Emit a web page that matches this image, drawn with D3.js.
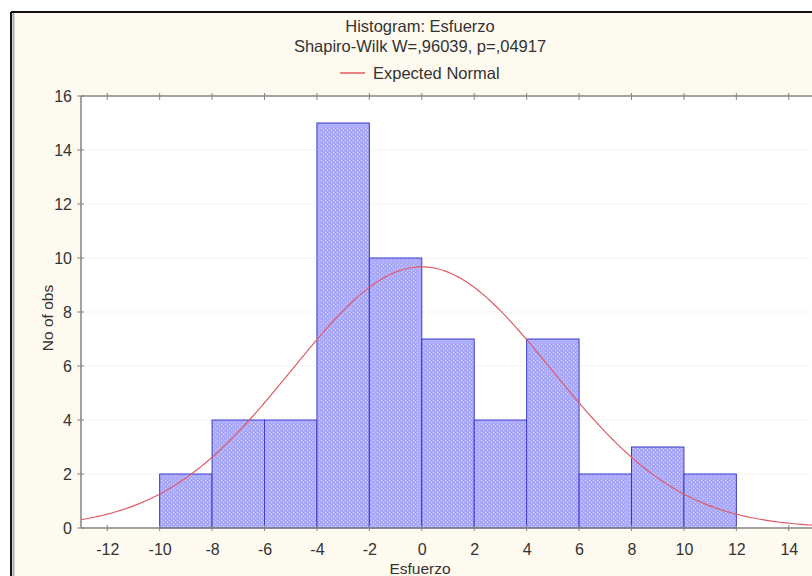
<!DOCTYPE html>
<html>
<head>
<meta charset="utf-8">
<script src="https://cdn.jsdelivr.net/npm/d3@7"></script>
<style>
  body { margin: 0; background: #fff; }
  text { font-family: "Liberation Sans", Arial, sans-serif; fill: #333; }
</style>
</head>
<body>
<script>
// histogram bins (lower edge, upper edge) and counts
var binStart = [-10, -8, -6, -4, -2, 0, 2, 4, 6, 8, 10];
var binEnd   = [-8, -6, -4, -2, 0, 2, 4, 6, 8, 10, 12];
var counts   = [2, 4, 4, 15, 10, 7, 4, 7, 2, 3, 2];
var xTicks = [-12, -10, -8, -6, -4, -2, 0, 2, 4, 6, 8, 10, 12, 14];
var yTicks = [0, 2, 4, 6, 8, 10, 12, 14, 16];
// expected normal fit
var fitMean = 0, fitSd = 4.95, nObs = 60, binWidth = 2;

var W = 812, H = 576;
var margin = {top: 96, left: 81},
    plotW = 815 - 81,
    plotH = 528 - 96;

var svg = d3.select("body").append("svg")
    .attr("width", W)
    .attr("height", H);

// window frame
svg.append("rect").attr("x", 12).attr("y", 13).attr("width", W).attr("height", H)
    .attr("fill", "#fffaf0");
svg.append("line").attr("x1", 11).attr("x2", W).attr("y1", 12).attr("y2", 12)
    .attr("stroke", "#111").attr("stroke-width", 2);
svg.append("line").attr("x1", 11).attr("x2", 11).attr("y1", 12).attr("y2", H)
    .attr("stroke", "#111").attr("stroke-width", 2);
svg.append("line").attr("x1", 13.5).attr("x2", 13.5).attr("y1", 13).attr("y2", H)
    .attr("stroke", "#aaa").attr("stroke-width", 2);

// dotted bar fill
var defs = svg.append("defs");
var pat = defs.append("pattern").attr("id", "dots")
    .attr("width", 4).attr("height", 4).attr("patternUnits", "userSpaceOnUse");
pat.append("rect").attr("width", 4).attr("height", 4).attr("fill", "#a9a9f7");
pat.append("rect").attr("x", 0).attr("y", 0).attr("width", 1).attr("height", 1).attr("fill", "#d2d2fb");
pat.append("rect").attr("x", 2).attr("y", 2).attr("width", 1).attr("height", 1).attr("fill", "#d2d2fb");

var x = d3.scaleLinear().domain([-13, 15]).range([0, plotW]);
var y = d3.scaleLinear().domain([0, 16]).range([plotH, 0]);

var g = svg.append("g")
    .attr("transform", "translate(" + margin.left + "," + margin.top + ")");

g.append("rect").attr("width", plotW).attr("height", plotH).attr("fill", "#fff");

// faint grid
g.selectAll(".grid").data(yTicks.slice(1, -1)).enter().append("line")
    .attr("x1", 0).attr("x2", plotW)
    .attr("y1", function(d) { return y(d); })
    .attr("y2", function(d) { return y(d); })
    .attr("stroke", "#ececf2").attr("stroke-dasharray", "2,2");

// bars
g.selectAll(".bar").data(counts).enter().append("rect")
    .attr("class", "bar")
    .attr("x", function(d, i) { return x(binStart[i]); })
    .attr("width", function(d, i) { return x(binEnd[i]) - x(binStart[i]); })
    .attr("y", function(d) { return y(d); })
    .attr("height", function(d) { return plotH - y(d); })
    .attr("fill", "url(#dots)")
    .attr("stroke", "#3a3acb")
    .attr("stroke-width", 1);

// expected normal curve
var curveX = d3.range(-13, 15.01, 0.1);
var line = d3.line()
    .x(function(d) { return x(d); })
    .y(function(d) {
      var z = (d - fitMean) / fitSd;
      return y(nObs * binWidth * Math.exp(-0.5 * z * z) / (fitSd * Math.sqrt(2 * Math.PI)));
    });
g.append("path").attr("d", line(curveX))
    .attr("fill", "none").attr("stroke", "#e05c64").attr("stroke-width", 1.2);

// axes (hyphen minus like the original)
var axisColor = "#858585";
var fmt = function(d) { return String(d); };
var xAxis = d3.axisBottom(x).tickValues(xTicks).tickFormat(fmt).tickSize(0).tickPadding(16);
var yAxis = d3.axisLeft(y).tickValues(yTicks).tickFormat(fmt).tickSize(0).tickPadding(9);

var gx = g.append("g").attr("transform", "translate(0," + plotH + ")").call(xAxis);
var gy = g.append("g").call(yAxis);
[gx, gy].forEach(function(a) {
  a.select(".domain").remove();
  a.selectAll("text").style("font-size", "16px").attr("fill", "#333")
      .style("font-family", "'Liberation Sans', Arial, sans-serif");
});

// frame lines and cross ticks
g.append("line").attr("x1", 0).attr("x2", plotW).attr("y1", plotH).attr("y2", plotH)
    .attr("stroke", axisColor).attr("stroke-width", 1.5);
g.append("line").attr("x1", 0).attr("x2", plotW).attr("y1", 0).attr("y2", 0)
    .attr("stroke", axisColor).attr("stroke-width", 1.5);
g.append("line").attr("x1", 0).attr("x2", 0).attr("y1", 0).attr("y2", plotH)
    .attr("stroke", axisColor).attr("stroke-width", 1.5);

g.selectAll(".ytick").data(yTicks).enter().append("line")
    .attr("x1", -4).attr("x2", 3)
    .attr("y1", function(d) { return y(d); }).attr("y2", function(d) { return y(d); })
    .attr("stroke", axisColor);
g.selectAll(".xtickb").data(xTicks).enter().append("line")
    .attr("x1", function(d) { return x(d); }).attr("x2", function(d) { return x(d); })
    .attr("y1", plotH - 3).attr("y2", plotH + 3)
    .attr("stroke", axisColor);
g.selectAll(".xtickt").data(xTicks).enter().append("line")
    .attr("x1", function(d) { return x(d); }).attr("x2", function(d) { return x(d); })
    .attr("y1", -3).attr("y2", 4)
    .attr("stroke", axisColor);

// titles
svg.append("text").attr("x", 420).attr("y", 32).attr("text-anchor", "middle")
    .style("font-size", "16.5px").text("Histogram: Esfuerzo");
svg.append("text").attr("x", 420).attr("y", 52).attr("text-anchor", "middle")
    .style("font-size", "16.5px").text("Shapiro-Wilk W=,96039, p=,04917");

// legend
svg.append("line").attr("x1", 340).attr("x2", 365).attr("y1", 73).attr("y2", 73)
    .attr("stroke", "#e05c64").attr("stroke-width", 1.5);
svg.append("text").attr("x", 373).attr("y", 78.5)
    .style("font-size", "16.5px").text("Expected Normal");

// axis labels
svg.append("text").attr("x", 420).attr("y", 574).attr("text-anchor", "middle")
    .style("font-size", "15.5px").text("Esfuerzo");
svg.append("text").attr("transform", "translate(53,318) rotate(-90)")
    .attr("text-anchor", "middle")
    .style("font-size", "15.5px").text("No of obs");
</script>
</body>
</html>
